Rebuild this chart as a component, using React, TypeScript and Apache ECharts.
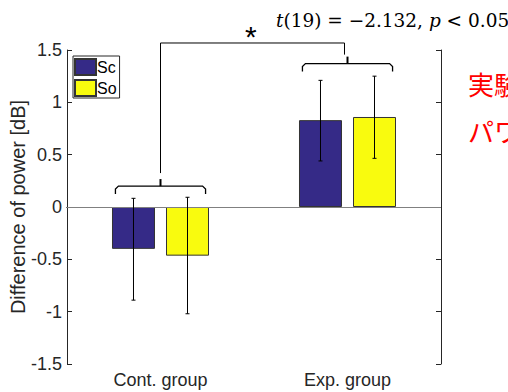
import React, { useEffect, useRef } from "react";
import * as echarts from "echarts";

const categories = ["Cont. group", "Exp. group"];
const seriesNames = ["Sc", "So"];
const scValues = [-0.4, 0.83];
const soValues = [-0.465, 0.86];
const scErrLow = [-0.89, 0.44];
const scErrHigh = [0.083, 1.21];
const soErrLow = [-1.02, 0.465];
const soErrHigh = [0.093, 1.25];
const bracketLevels = [0.2, 1.37];
const linkLevel = 1.567;
const yTicks = { min: -1.5, max: 1.5, interval: 0.5 };

const SC_COLOR = "#352a87";
const SO_COLOR = "#f9fb0e";
const AXIS = "#262626";
const BAND_OFFSET = 0.1444;
const BRACKET_HALF = 0.241;

export default function App() {
  const ref = useRef<HTMLDivElement>(null);
  useEffect(() => {
    if (!ref.current) return;
    const chart = echarts.init(ref.current, null, { renderer: "svg" });

    const errData: number[][] = [];
    categories.forEach((_, i) => {
      errData.push([i, 0, scErrLow[i], scErrHigh[i]]);
      errData.push([i, 1, soErrLow[i], soErrHigh[i]]);
    });
    const bracketData = bracketLevels.map((lv, i) => [i, lv]);

    const font = "Liberation Sans, Arial, sans-serif";

    chart.setOption({
      animation: false,
      grid: { left: 67, top: 50, width: 374, height: 314, containLabel: false, outerBoundsMode: "none" },
      legend: {
        data: seriesNames,
        orient: "vertical",
        left: 73,
        top: 56,
        itemWidth: 21,
        itemHeight: 16,
        itemGap: 3,
        padding: [2, 3, 1, 1],
        borderColor: AXIS,
        borderWidth: 1,
        backgroundColor: "#fff",
        icon: "rect",
        textStyle: { fontSize: 16, color: "#000", fontFamily: font, padding: [0, 0, 0, -4] },
      },
      xAxis: [
        {
          type: "category",
          data: categories,
          position: "bottom",
          axisLine: { lineStyle: { color: AXIS, width: 1 } },
          axisTick: { inside: true, alignWithLabel: true, length: 5, lineStyle: { color: AXIS } },
          axisLabel: { fontSize: 18, color: AXIS, fontFamily: font, margin: 7 },
          splitLine: { show: false },
        },
        {
          type: "category",
          data: categories,
          position: "top",
          axisLine: { lineStyle: { color: AXIS, width: 1 } },
          axisTick: { inside: true, alignWithLabel: true, length: 5, lineStyle: { color: AXIS } },
          axisLabel: { show: false },
          splitLine: { show: false },
        },
      ],
      yAxis: [
        {
          type: "value",
          min: yTicks.min,
          max: yTicks.max,
          interval: yTicks.interval,
          position: "left",
          name: "Difference of power [dB]",
          nameLocation: "middle",
          nameGap: 39,
          nameMoveOverlap: false,
          nameTextStyle: { fontSize: 20, color: AXIS, fontFamily: font },
          axisLine: { show: true, onZero: false, lineStyle: { color: AXIS, width: 1 } },
          axisTick: { show: true, inside: true, length: 5, lineStyle: { color: AXIS } },
          axisLabel: { fontSize: 18, color: AXIS, fontFamily: font, margin: 5 },
          splitLine: { show: false },
        },
        {
          type: "value",
          min: yTicks.min,
          max: yTicks.max,
          interval: yTicks.interval,
          position: "right",
          axisLine: { show: true, onZero: false, lineStyle: { color: AXIS, width: 1 } },
          axisTick: { show: true, inside: true, length: 5, lineStyle: { color: AXIS } },
          axisLabel: { show: false },
          splitLine: { show: false },
        },
      ],
      series: [
        {
          name: "Sc",
          type: "bar",
          data: scValues,
          barWidth: 43,
          barGap: "25.6%",
          itemStyle: { color: SC_COLOR, borderColor: "#333", borderWidth: 1 },
          markLine: {
            silent: true,
            symbol: "none",
            label: { show: false },
            lineStyle: { color: "#808080", width: 1, type: "solid" },
            data: [{ yAxis: 0 }],
          },
        },
        {
          name: "So",
          type: "bar",
          data: soValues,
          barWidth: 43,
          barGap: "25.6%",
          itemStyle: { color: SO_COLOR, borderColor: "#333", borderWidth: 1 },
        },
        {
          type: "custom",
          name: "err",
          data: errData,
          z: 10,
          clip: false,
          renderItem: (params: any, api: any) => {
            const cat = api.value(0);
            const s = api.value(1);
            const band = api.size([1, 0])[0];
            const cx = api.coord([cat, 0])[0] + (s === 0 ? -1 : 1) * band * BAND_OFFSET;
            const yl = api.coord([cat, api.value(2)])[1];
            const yh = api.coord([cat, api.value(3)])[1];
            const st = { stroke: "#000", lineWidth: 1 };
            return {
              type: "group",
              children: [
                { type: "line", shape: { x1: cx, y1: yl, x2: cx, y2: yh }, style: st },
                { type: "line", shape: { x1: cx - 2, y1: yl, x2: cx + 2, y2: yl }, style: st },
                { type: "line", shape: { x1: cx - 2, y1: yh, x2: cx + 2, y2: yh }, style: st },
              ],
            };
          },
        },
        {
          type: "custom",
          name: "brackets",
          data: bracketData,
          z: 10,
          clip: false,
          renderItem: (params: any, api: any) => {
            const cat = api.value(0);
            const band = api.size([1, 0])[0];
            const [cx, y] = api.coord([cat, api.value(1)]);
            const h = band * BRACKET_HALF;
            const st = { stroke: "#000", lineWidth: 1.3, fill: null };
            return {
              type: "group",
              children: [
                {
                  type: "polyline",
                  shape: {
                    points: [
                      [cx - h, y + 8],
                      [cx - h, y + 3],
                      [cx - h + 3, y],
                      [cx + h - 3, y],
                      [cx + h, y + 3],
                      [cx + h, y + 8],
                    ],
                  },
                  style: st,
                },
                { type: "line", shape: { x1: cx, y1: y, x2: cx, y2: y - 7 }, style: { stroke: "#000", lineWidth: 2 } },
              ],
            };
          },
        },
        {
          type: "custom",
          name: "link",
          data: [[0, 1, bracketLevels[0], bracketLevels[1], linkLevel]],
          z: 10,
          clip: false,
          renderItem: (params: any, api: any) => {
            const p0 = api.coord([api.value(0), api.value(2)]);
            const p1 = api.coord([api.value(1), api.value(3)]);
            const yt = api.coord([api.value(0), api.value(4)])[1];
            return {
              type: "polyline",
              shape: {
                points: [
                  [p0[0], p0[1] - 13],
                  [p0[0], yt],
                  [p1[0] - 3, yt],
                  [p1[0] - 3, p1[1] - 9],
                ],
              },
              style: { stroke: "#000", lineWidth: 1, fill: null },
            };
          },
        },
      ],
      graphic: [
        {
          type: "text",
          left: 245,
          top: 21,
          style: { text: "*", fontSize: 30, fontFamily: font, fill: "#000" },
        },
        {
          type: "text",
          left: 276,
          top: 11,
          style: {
            text: "{i|t}(19) = −2.132, {i|p} < 0.05",
            fontSize: 18.5,
            fontFamily: "DejaVu Serif, serif",
            fill: "#000",
            rich: { i: { fontStyle: "italic", fontSize: 18.5, fontFamily: "DejaVu Serif, serif", fill: "#000" } },
          },
        },
        {
          type: "text",
          left: 468,
          top: 70,
          style: { text: "実験群の", fontSize: 26, fontFamily: "Noto Sans CJK JP", fill: "#ff0000" },
        },
        {
          type: "text",
          left: 468,
          top: 117,
          style: { text: "パワー", fontSize: 26, fontFamily: "Noto Sans CJK JP", fill: "#ff0000" },
        },
      ],
    });
    return () => chart.dispose();
  }, []);
  return (
    <div
      ref={ref}
      style={{ position: "fixed", left: 0, top: 0, width: 508, height: 392, background: "#fff", overflow: "hidden" }}
    />
  );
}
